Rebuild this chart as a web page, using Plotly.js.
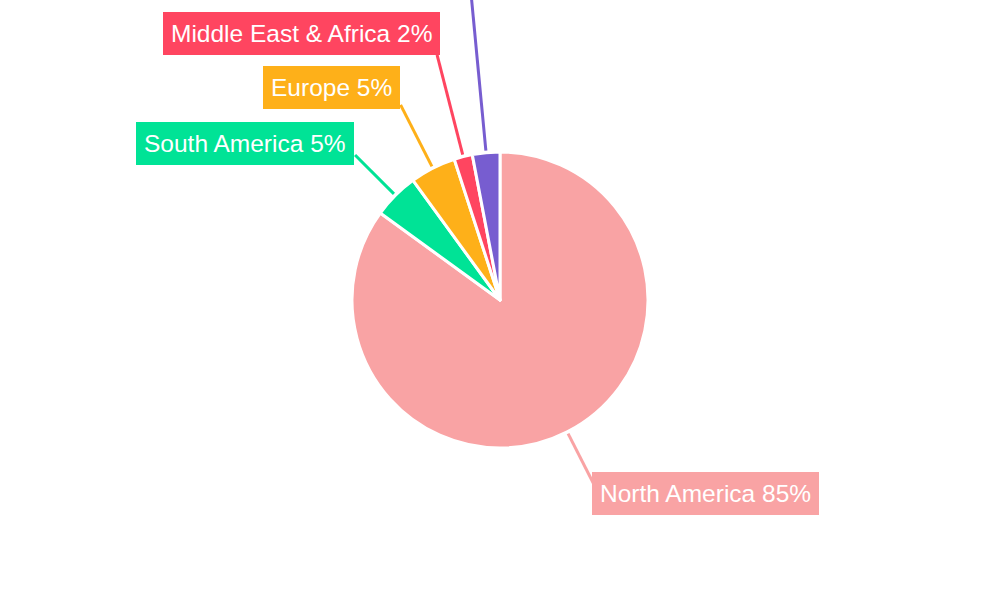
<!DOCTYPE html>
<html>
<head>
<meta charset="utf-8">
<script src="https://cdn.plot.ly/plotly-3.0.1.min.js"></script>
<style>html,body{margin:0;padding:0;background:#fff;}#chart{width:1000px;height:600px;}</style>
</head>
<body>
<div id="chart"></div>
<script>
// Data
const regions = ["North America", "South America", "Europe", "Middle East & Africa", "Asia Pacific"];
const shares = [85, 5, 5, 2, 3];
const colors = ["#F9A3A4", "#00E396", "#FEB019", "#FF4560", "#775DD0"];

// Layout styling (pixel geometry of the label callouts)
const W = 1000, H = 600, CX = 500, CY = 300, R = 147;
const lineLen = [59, 55, 69, 103, 260];
// Asia Pacific's label lies above the visible area in the reference, so only its leader line shows
const boxPos = [
  {x: 592, y: 472, xa: "left"},
  {x: 354, y: 122, xa: "right"},
  {x: 400, y: 66, xa: "right"},
  {x: 440, y: 12, xa: "right"},
  null
];

const total = shares.reduce((a, b) => a + b, 0);
const shapes = [], annotations = [];
let cum = 0;
shares.forEach((v, i) => {
  const mid = (cum + v / 2) / total * 2 * Math.PI;
  cum += v;
  const r0 = R + 3, r1 = r0 + lineLen[i];
  const x0 = CX + r0 * Math.sin(mid), y0 = CY - r0 * Math.cos(mid);
  const x1 = CX + r1 * Math.sin(mid), y1 = CY - r1 * Math.cos(mid);
  shapes.push({type: "line", xref: "paper", yref: "paper",
    x0: x0 / W, y0: 1 - y0 / H, x1: x1 / W, y1: 1 - y1 / H,
    line: {color: colors[i], width: 3}});
  if (!boxPos[i]) return;
  const pct = Math.round(v / total * 100);
  annotations.push({xref: "paper", yref: "paper", x: boxPos[i].x / W, y: 1 - boxPos[i].y / H,
    xanchor: boxPos[i].xa, yanchor: "top", showarrow: false,
    text: regions[i] + " " + pct + "%", bgcolor: colors[i], borderpad: 8, borderwidth: 0,
    font: {family: "Liberation Sans, Arial, sans-serif", size: 24.5, color: "#ffffff"}});
});

const trace = {
  type: "pie", labels: regions, values: shares, sort: false, direction: "clockwise", rotation: 0,
  marker: {colors: colors, line: {color: "#ffffff", width: 3}},
  textinfo: "none", hoverinfo: "label+percent",
  domain: {x: [0, 1], y: [(CY - R - 1) / H, (CY + R + 1) / H]}
};

Plotly.newPlot("chart", [trace], {
  width: W, height: H, margin: {l: 0, r: 0, t: 0, b: 0},
  showlegend: false, paper_bgcolor: "#ffffff",
  shapes: shapes, annotations: annotations
}, {displayModeBar: false});
</script>
</body>
</html>
